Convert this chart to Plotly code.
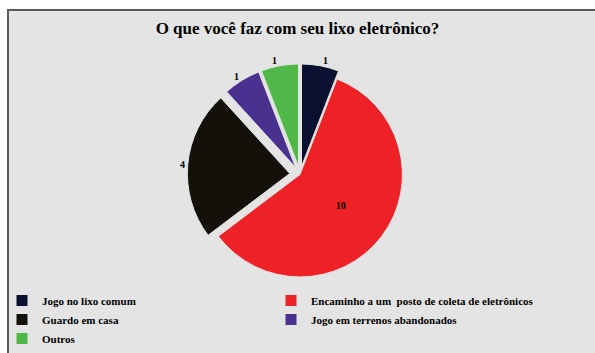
import plotly.graph_objects as go

categories = ["Jogo no lixo comum",
              "Encaminho a um  posto de coleta de eletrônicos",
              "Guardo em casa",
              "Jogo em terrenos abandonados",
              "Outros"]
values = [1, 10, 4, 1, 1]
colors = ["#0a1030", "#ee2226", "#13110a", "#4a3190", "#50b848"]
pulls = [0.08, 0.0, 0.1, 0.08, 0.08]
text_pos = ["outside", "inside", "outside", "outside", "outside"]

W, H = 595, 353

fig = go.Figure()
fig.add_trace(go.Pie(
    labels=categories,
    values=values,
    sort=False,
    direction="clockwise",
    rotation=0,
    pull=pulls,
    marker=dict(colors=colors, line=dict(color="#e4e4e4", width=1)),
    textinfo="value",
    textposition=text_pos,
    insidetextorientation="horizontal",
    textfont=dict(family="Liberation Serif", size=10, color="black", weight="bold"),
    domain=dict(x=[170 / W, 430 / W], y=[1 - 288 / H, 1 - 62 / H]),
    showlegend=True,
))

fig.add_shape(type="rect", xref="paper", yref="paper",
              x0=8 / W, x1=1.02, y0=-0.02, y1=1 - 10 / H,
              fillcolor="#e4e4e4", line=dict(color="#5a5a5a", width=2),
              layer="below")

fig.update_layout(
    width=W, height=H,
    margin=dict(l=0, r=0, t=0, b=0),
    paper_bgcolor="white",
    plot_bgcolor="white",
    title=dict(text="O que você faz com seu lixo eletrônico?",
               x=0.5, xanchor="center", y=1 - 28 / H, yanchor="middle",
               font=dict(family="Liberation Serif", size=17, color="black", weight="bold")),
    legend=dict(orientation="h", x=2 / W, xanchor="left",
                y=1 - 287 / H, yanchor="top",
                entrywidth=224, entrywidthmode="pixels",
                font=dict(family="Liberation Serif", size=11, color="black", weight="bold"),
                bgcolor="rgba(0,0,0,0)", itemclick=False, itemwidth=30),
)

fig.write_html("out.html")
